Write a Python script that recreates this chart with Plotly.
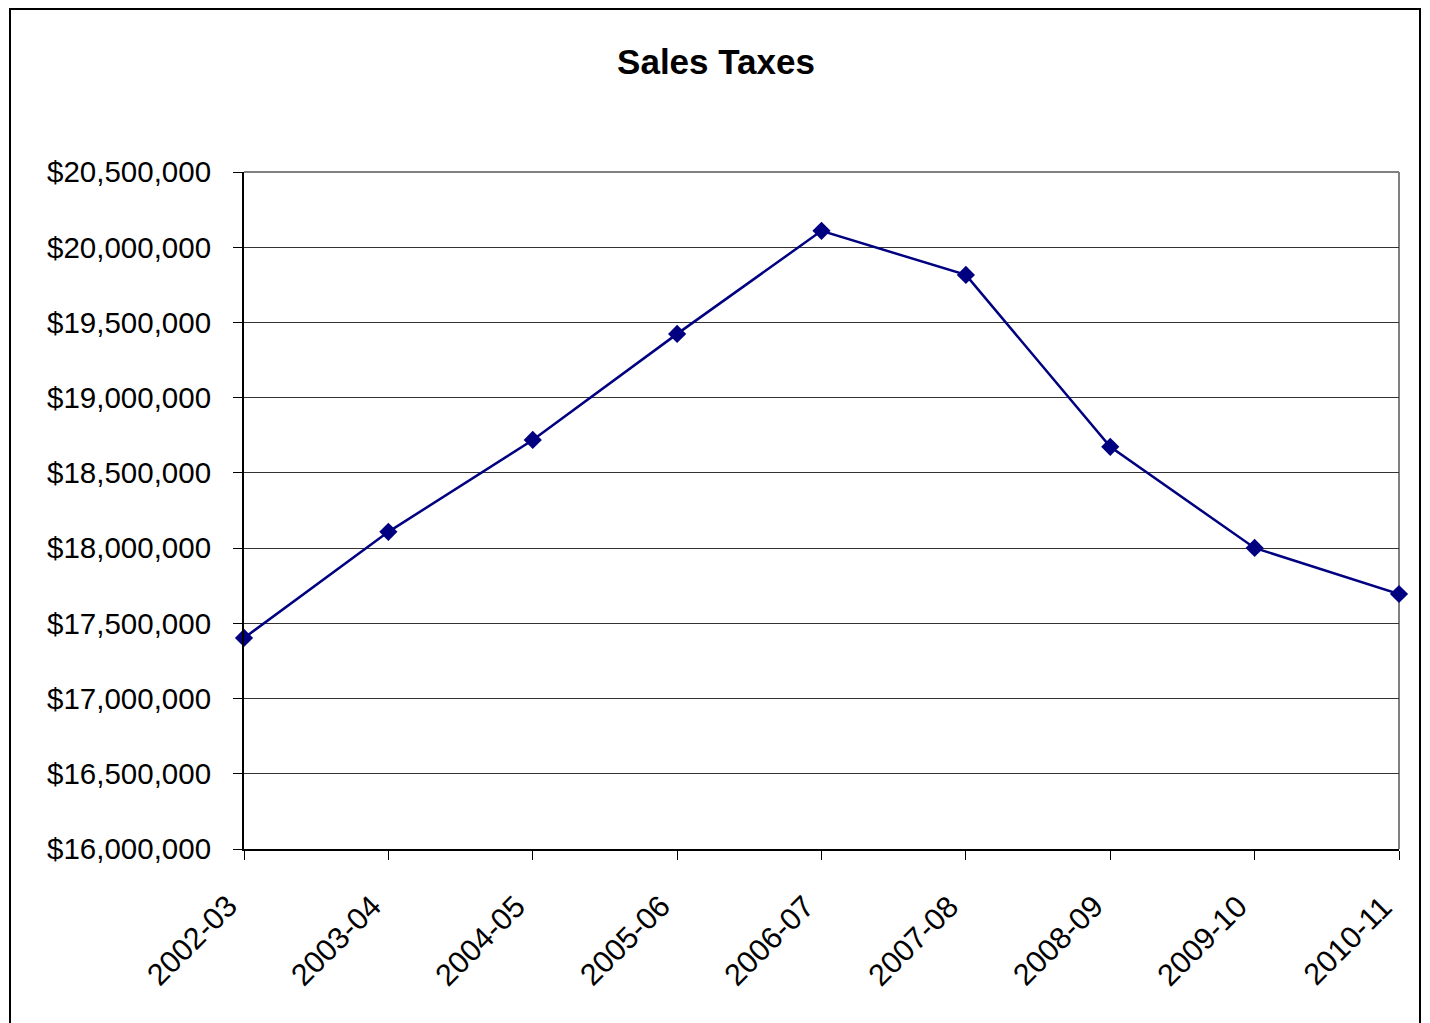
import plotly.graph_objects as go

years = ["2002-03", "2003-04", "2004-05", "2005-06", "2006-07",
         "2007-08", "2008-09", "2009-10", "2010-11"]
sales_taxes = [17403000, 18108000, 18719000, 19424000, 20109000,
               19816000, 18673000, 18001000, 17695000]
y_ticks = [16000000, 16500000, 17000000, 17500000, 18000000,
           18500000, 19000000, 19500000, 20000000, 20500000]
y_tick_labels = ["${:,}".format(v) for v in y_ticks]

fig = go.Figure()
fig.add_trace(go.Scatter(
    x=list(range(len(years))), y=sales_taxes, mode="lines+markers",
    line=dict(color="#000080", width=2.5),
    marker=dict(symbol="diamond", size=14, color="#000080"),
    cliponaxis=False,
    showlegend=False,
))

# page body has an 8px margin; figure coordinates = screen - 8
OFF = 8
W, H = 1430, 1023
L, T = 244 - OFF, 172 - OFF
R = W - (1399 - OFF)
B = H - (849 - OFF)
pw, ph = W - L - R, H - T - B

def px(x):
    return (x - OFF - L) / pw

def py(y):
    return (H - B - (y - OFF)) / ph

# rotated category labels as annotations (placed at the category positions)
annotations = [
    dict(x=i, y=0, xref="x", yref="paper", text=lab, showarrow=False,
         textangle=-45, xanchor="right", yanchor="top",
         xshift=2, yshift=-37, font=dict(size=30.5, color="black"))
    for i, lab in enumerate(years)
]

fig.update_layout(
    width=W, height=H,
    margin=dict(l=L, r=R, t=T, b=B, pad=0),
    paper_bgcolor="white", plot_bgcolor="white",
    font=dict(family="Liberation Sans, Arial, sans-serif", color="black"),
    title=dict(text="<b>Sales Taxes</b>", x=px(716), xref="paper", xanchor="center",
               y=1 - (62 - OFF) / H, yanchor="middle", font=dict(size=35, color="black")),
    xaxis=dict(
        range=[0, len(years) - 1], tickmode="array",
        tickvals=list(range(len(years))), showticklabels=False,
        ticks="outside", ticklen=9, tickcolor="black",
        showline=True, linecolor="black", linewidth=2,
        showgrid=False, zeroline=False,
    ),
    yaxis=dict(
        range=[16000000, 20500000], tickmode="array",
        tickvals=y_ticks, ticktext=y_tick_labels,
        ticks="outside", ticklen=9, tickcolor="black",
        ticklabelstandoff=16,
        showline=True, linecolor="black", linewidth=2,
        showgrid=True, gridcolor="#333333", gridwidth=1,
        zeroline=False, tickfont=dict(size=29.5, color="black"),
    ),
    annotations=annotations,
    shapes=[
        # plot area top/right border (gray)
        dict(type="line", xref="paper", yref="paper", x0=0, x1=1, y0=1, y1=1,
             line=dict(color="#808080", width=2), layer="below"),
        dict(type="line", xref="paper", yref="paper", x0=1, x1=1, y0=0, y1=1,
             line=dict(color="#808080", width=2), layer="below"),
        # outer chart border
        dict(type="rect", xref="paper", yref="paper",
             x0=px(10), x1=px(1420), y0=py(1040), y1=py(9),
             line=dict(color="black", width=2), layer="below"),
    ],
)

fig.write_html("out.html")
